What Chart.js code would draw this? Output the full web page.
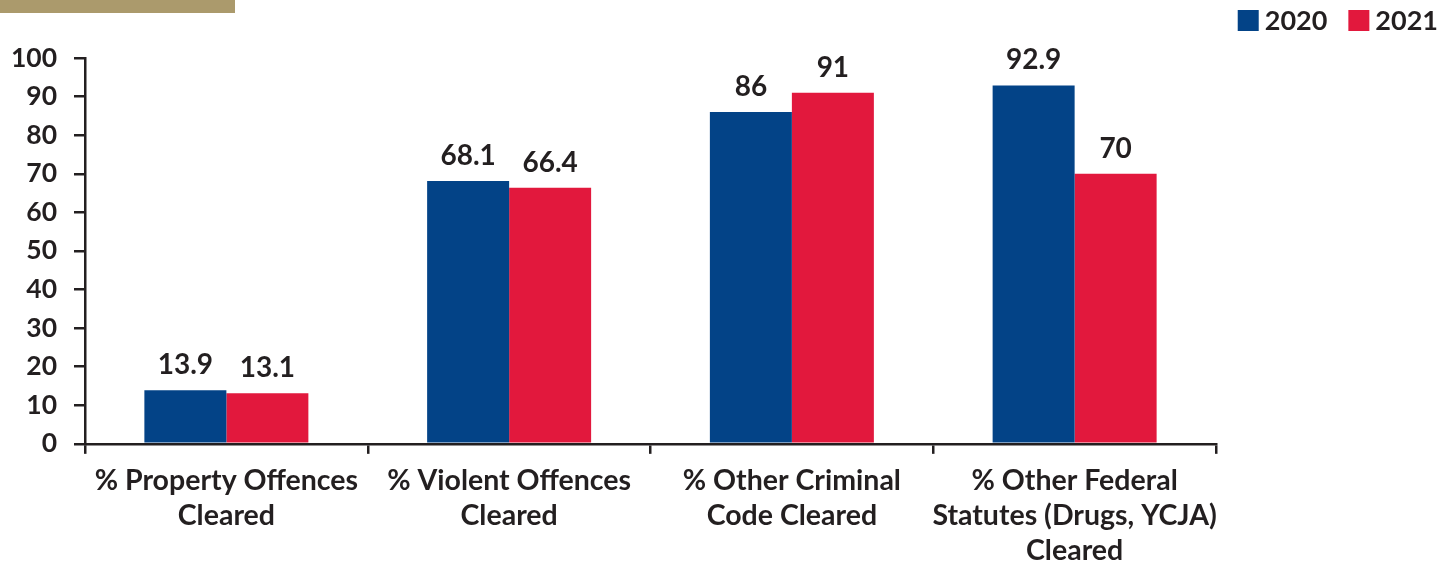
<!DOCTYPE html>
<html>
<head>
<meta charset="utf-8">
<script src="https://cdn.jsdelivr.net/npm/chart.js@4.4.1/dist/chart.umd.min.js"></script>
<style>
  html, body { margin: 0; padding: 0; background: #fff; overflow: hidden; }
  #wrap { position: relative; width: 1443px; height: 562px; }
  #band { position: absolute; left: 0; top: 0; width: 235px; height: 13px; background: #ab9a6c; }
</style>
</head>
<body>
<div id="wrap">
  <div id="band"></div>
  <canvas id="chart" width="1443" height="562"></canvas>
</div>
<script>
const categories = [
  ['% Property Offences', 'Cleared'],
  ['% Violent Offences', 'Cleared'],
  ['% Other Criminal', 'Code Cleared'],
  ['% Other Federal', 'Statutes (Drugs, YCJA)', 'Cleared']
];
const values2020 = [13.9, 68.1, 86, 92.9];
const values2021 = [13.1, 66.4, 91, 70];
const seriesLabels = ['2020', '2021'];

const ink = '#231f20';

// value labels on top of each bar
const barLabels = {
  id: 'barLabels',
  afterDatasetsDraw(chart) {
    const ctx = chart.ctx;
    ctx.save();
    ctx.font = 'bold 28px Lato';
    ctx.fillStyle = ink;
    ctx.textAlign = 'center';
    ctx.textBaseline = 'alphabetic';
    chart.data.datasets.forEach((ds, i) => {
      chart.getDatasetMeta(i).data.forEach((bar, j) => {
        ctx.fillText(String(ds.data[j]), bar.x, bar.y - 16);
      });
    });
    ctx.restore();
  }
};

// legend in the top right corner
const cornerLegend = {
  id: 'cornerLegend',
  afterDraw(chart) {
    const ctx = chart.ctx;
    ctx.save();
    ctx.font = 'bold 27px Lato';
    ctx.textBaseline = 'middle';
    let x = 1438;
    chart.data.datasets.slice().reverse().forEach(ds => {
      x -= ctx.measureText(ds.label).width;
      ctx.fillStyle = ink;
      ctx.fillText(ds.label, x, 21);
      x -= 27;
      ctx.fillStyle = ds.backgroundColor;
      ctx.fillRect(x, 10, 21, 21);
      x -= 21;
    });
    ctx.restore();
  }
};

new Chart(document.getElementById('chart'), {
  type: 'bar',
  data: {
    labels: categories,
    datasets: [
      { label: seriesLabels[0], data: values2020, backgroundColor: '#034387' },
      { label: seriesLabels[1], data: values2021, backgroundColor: '#e2183d' }
    ]
  },
  options: {
    responsive: false,
    animation: false,
    layout: { padding: { top: 58, left: 0, right: 227, bottom: -15 } },
    plugins: { legend: { display: false }, tooltip: { enabled: false } },
    datasets: { bar: { categoryPercentage: 0.58, barPercentage: 1 } },
    scales: {
      x: {
        offset: true,
        grid: { offset: true, drawOnChartArea: false, tickLength: 10, color: ink, lineWidth: 2.5 },
        border: { color: ink, width: 2.5 },
        ticks: {
          color: ink,
          font: { family: 'Lato', weight: 'bold', size: 28.5, lineHeight: 1.23 },
          padding: 9, maxRotation: 0, autoSkip: false
        }
      },
      y: {
        min: 0,
        max: 100,
        afterFit(scale) { scale.width = 85; },
        ticks: { stepSize: 10, color: ink, font: { family: 'Lato', weight: 'bold', size: 26.5 }, padding: 17 },
        grid: { drawOnChartArea: false, tickLength: 11, color: ink, lineWidth: 2.5 },
        border: { color: ink, width: 2.5 }
      }
    }
  },
  plugins: [barLabels, cornerLegend]
});
</script>
</body>
</html>
